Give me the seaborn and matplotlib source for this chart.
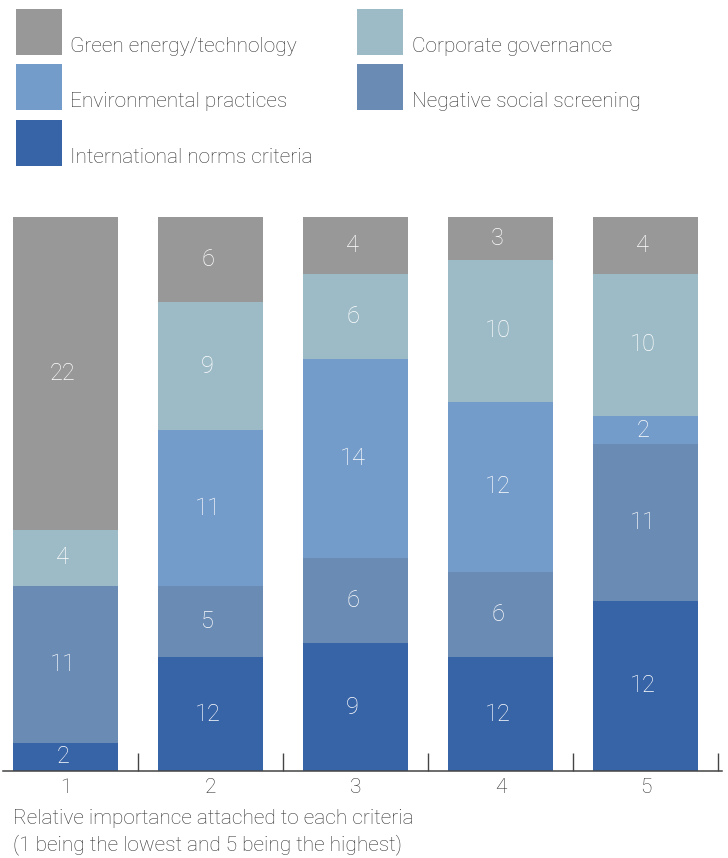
import matplotlib.pyplot as plt
import matplotlib.patches as mpatches
import numpy as np
import pandas as pd
import seaborn as sns

# Data (counts)
RANKS = [1, 2, 3, 4, 5]
CRITERIA = [
    "Green energy/technology",
    "Corporate governance",
    "Environmental practices",
    "Negative social screening",
    "International norms criteria",
]
green = [22, 6, 4, 3, 4]
corporate = [4, 9, 6, 10, 10]
environmental = [0, 11, 14, 12, 2]
negative = [11, 5, 6, 6, 11]
international = [2, 12, 9, 12, 12]

COLORS = {
    "Green energy/technology": "#989898",
    "Corporate governance": "#9dbbc6",
    "Environmental practices": "#749cca",
    "Negative social screening": "#6a8bb4",
    "International norms criteria": "#3763a7",
}
TEXT = "#333333"
Y_MAX = 39  # the original stacks from the top down and cuts bars at the baseline

sns.set_style("white")
plt.rcParams["font.family"] = ["Roboto", "DejaVu Sans"]
plt.rcParams["font.weight"] = "light"

series = [green, corporate, environmental, negative, international]
df = pd.DataFrame(
    [(r, c, v) for c, vals in zip(CRITERIA, series) for r, v in zip(RANKS, vals)],
    columns=["rank", "criteria", "count"],
)

fig = plt.figure(figsize=(7.28, 8.58), dpi=100)
ax = fig.add_axes([3 / 728, 87 / 858, 719 / 728, 554 / 858])

# last hue level sits at the stack base -> Green at 0 (top, since y is inverted)
sns.histplot(
    data=df,
    x="rank",
    weights="count",
    hue="criteria",
    hue_order=CRITERIA[::-1],
    palette=COLORS,
    multiple="stack",
    discrete=True,
    shrink=105 / 145,
    alpha=1,
    linewidth=0,
    legend=False,
    ax=ax,
)

# segment labels, centred on the visible part of each segment
stack = np.array(series, dtype=float)  # top -> bottom
starts = np.vstack([np.zeros(len(RANKS)), np.cumsum(stack, axis=0)[:-1]])
for j, r in enumerate(RANKS):
    for i in range(stack.shape[0]):
        v = stack[i, j]
        if v == 0:
            continue
        y0 = starts[i, j]
        y1 = min(y0 + v, Y_MAX)
        ax.text(r - 0.02, (y0 + y1) / 2, f"{int(v)}", color="white", fontsize=17,
                ha="center", va="center", fontweight="light")

ax.set_xlim(1 - 62.5 / 145, 5 + 76.5 / 145)
ax.set_ylim(Y_MAX, 0)
ax.set_xlabel("")
ax.set_ylabel("")
ax.set_yticks([])
ax.set_xticks(RANKS)
ax.set_xticklabels([str(r) for r in RANKS], fontsize=15, color=TEXT)
ax.set_xticks([1.5, 2.5, 3.5, 4.5, 5.5], minor=True)
ax.tick_params(axis="x", which="major", bottom=True, length=0, pad=5)
ax.tick_params(axis="x", which="minor", bottom=True, direction="in", length=13,
               width=1.0, color="#444444")
for side in ["top", "left", "right"]:
    ax.spines[side].set_visible(False)
ax.spines["bottom"].set_color("#444444")
ax.spines["bottom"].set_linewidth(1.1)
ax.grid(False)

fig.text(13 / 728, 1 - 818 / 858, "Relative importance attached to each criteria",
         fontsize=15, color=TEXT, va="center", ha="left")
fig.text(13 / 728, 1 - 845 / 858, "(1 being the lowest and 5 being the highest)",
         fontsize=15, color=TEXT, va="center", ha="left")

# legend (two columns, row-major)
W, H = 728, 858
legend_pos = [(16, 9, 70), (357, 9, 412), (16, 64, 70), (357, 64, 412), (16, 120, 70)]
for name, (sx, sy, tx) in zip(CRITERIA, legend_pos):
    fig.add_artist(mpatches.Rectangle(
        (sx / W, 1 - (sy + 46) / H), 46 / W, 46 / H,
        transform=fig.transFigure, facecolor=COLORS[name], edgecolor="none",
    ))
    fig.text(tx / W, 1 - (sy + 43) / H, name, fontsize=15, color=TEXT,
             ha="left", va="baseline")

plt.savefig("out.png", dpi=100)
